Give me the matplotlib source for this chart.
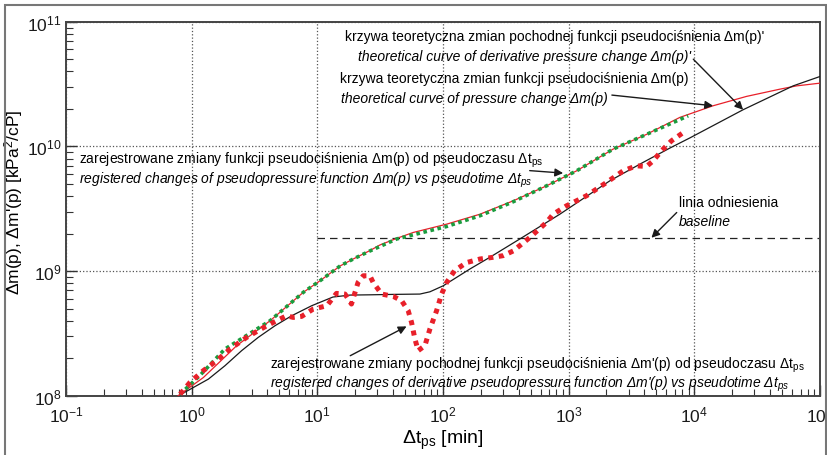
import numpy as np
import matplotlib
matplotlib.use("Agg")
import matplotlib.pyplot as plt
from matplotlib.ticker import LogLocator, NullFormatter
from matplotlib.patches import Rectangle

plt.rcParams['font.family'] = ['Liberation Sans', 'DejaVu Sans']
plt.rcParams['mathtext.fontset'] = 'custom'
plt.rcParams['mathtext.rm'] = 'Liberation Sans'
plt.rcParams['mathtext.it'] = 'Liberation Sans:italic'

# theoretical curve of pressure change dm(p)
t_theory = [0.78, 1.24, 2.28, 4.2, 7.73, 10.5, 15.2, 19.3, 26.2, 31.5, 42.8, 57.9, 107,
            197, 362, 667, 1156, 2259, 4167, 7670, 14110, 26020, 47900, 65000, 1e5]
m_theory = [1.0e8, 1.40e8, 2.52e8, 3.99e8, 6.75e8, 8.36e8, 1.10e9, 1.25e9, 1.46e9, 1.62e9,
            1.83e9, 2.04e9, 2.38e9, 2.86e9, 3.66e9, 4.83e9, 6.37e9, 9.52e9, 1.25e10,
            1.71e10, 2.12e10, 2.52e10, 2.88e10, 3.06e10, 3.22e10]

# theoretical derivative curve dm'(p)
t_deriv = [0.83, 1.36, 1.84, 2.50, 3.39, 4.60, 6.25, 9.01, 13.3, 18.2, 26.2, 40, 65.5,
           78.7, 100.4, 164, 236, 409, 851, 2128, 3915, 6385, 9210, 24450, 61100, 1e5]
md_theory = [1.03e8, 1.36e8, 1.74e8, 2.30e8, 2.94e8, 3.64e8, 4.38e8, 5.27e8, 6.19e8,
             6.42e8, 6.45e8, 6.5e8, 6.54e8, 6.82e8, 7.62e8, 1.04e9, 1.29e9, 1.81e9,
             2.86e9, 5.30e9, 7.45e9, 9.7e9, 1.17e10, 1.97e10, 3.06e10, 3.64e10]

# registered dm(p)
t_reg = [0.81, 1.16, 1.84, 4.2, 7.73, 10.5, 15.2, 19.3, 26.2, 42.8, 107, 197, 362, 667,
         1156, 2259, 4167, 8930]
m_reg = [1.03e8, 1.45e8, 2.37e8, 3.99e8, 6.75e8, 8.36e8, 1.10e9, 1.25e9, 1.45e9, 1.81e9,
         2.28e9, 2.78e9, 3.60e9, 4.83e9, 6.37e9, 9.52e9, 1.25e10, 1.76e10]

# registered derivative dm'(p)
t_regd = [0.81, 0.97, 1.24, 1.58, 2.02, 2.74, 3.95, 5.04, 5.7, 6.43, 7.5, 9.28, 11.9,
          14.2, 16.6, 18.7, 21.1, 23.2, 26.2, 27.8, 32.5, 40.2, 46.9, 52.9, 56.2, 59.8,
          63.5, 71.8, 78.7, 88.9, 97.5, 107, 124, 154, 197, 251, 301, 362, 491, 667,
          753, 962, 1387, 2002, 2714, 3467, 4167, 4700, 5483, 6585, 8147]
md_reg = [1.03e8, 1.28e8, 1.59e8, 1.91e8, 2.37e8, 2.94e8, 3.64e8, 4.12e8, 4.38e8, 4.25e8,
          4.33e8, 4.96e8, 5.27e8, 6.62e8, 6.54e8, 5.44e8, 8.12e8, 9.17e8, 9.17e8, 8.12e8,
          6.54e8, 6.27e8, 5.78e8, 4.80e8, 3.88e8, 2.85e8, 2.30e8, 2.52e8, 3.43e8, 4.80e8,
          6.54e8, 8.12e8, 1.01e9, 1.17e9, 1.25e9, 1.29e9, 1.33e9, 1.45e9, 1.86e9, 2.46e9,
          2.86e9, 3.34e9, 4.02e9, 5.14e9, 6.37e9, 6.99e9, 6.91e9, 7.66e9, 9.22e9, 1.11e10,
          1.29e10]

baseline_t = [10, 1e5]
baseline_m = [1.83e9, 1.83e9]

fig = plt.figure(figsize=(8.27, 4.56), dpi=100)
ax = fig.add_axes([0.0798, 0.130, 0.9117, 0.820])

ax.plot(t_theory, m_theory, color='#e8202a', lw=0.9, zorder=3)
ax.plot(t_deriv, md_theory, color='#1a1a1a', lw=0.9, zorder=3)
ax.plot(t_reg, m_reg, color='#1a9c3e', lw=2.6, linestyle=(0, (1, 1)), zorder=4)
ax.plot(t_regd, md_reg, color='#e8202a', lw=3.6, linestyle=(0, (1, 1.1)), zorder=4)
ax.plot(baseline_t, baseline_m, color='#222222', lw=0.9, linestyle=(0, (6, 4)), zorder=2)

ax.set_xscale('log')
ax.set_yscale('log')
ax.set_xlim(0.1, 1e5)
ax.set_ylim(1e8, 1e11)
ax.xaxis.set_major_locator(LogLocator(base=10, numticks=10))
ax.yaxis.set_major_locator(LogLocator(base=10, numticks=10))
ax.xaxis.set_minor_locator(LogLocator(base=10, subs=np.arange(2, 10), numticks=20))
ax.yaxis.set_minor_locator(LogLocator(base=10, subs=np.arange(2, 10), numticks=20))
ax.xaxis.set_minor_formatter(NullFormatter())
ax.yaxis.set_minor_formatter(NullFormatter())
ax.tick_params(which='both', direction='in', top=False, right=False, colors='#333333',
               labelcolor='#1a1a1a', labelsize=12.5)
ax.tick_params(which='major', length=8, width=1)
ax.tick_params(which='minor', length=5, width=0.8)
ax.tick_params(axis='x', pad=6)
ax.tick_params(axis='y', pad=3)
ax.grid(which='major', linestyle=':', color='#555555', lw=0.9)
for s in ax.spines.values():
    s.set_color('#444444')
    s.set_linewidth(1.4)

ax.set_xlabel(r"$\Delta$t$_\mathregular{ps}$ [min]", fontsize=14, labelpad=3)
ax.set_ylabel(r"$\Delta$m(p), $\Delta$m'(p) [kPa$^\mathregular{2}$/cP]", fontsize=12.5)
ax.yaxis.set_label_coords(-0.055, 0.52)

fs = 10
arrow = dict(arrowstyle='-|>', color='#1a1a1a', lw=1.0, mutation_scale=12,
             shrinkA=0, shrinkB=0)

ax.text(0.370, 0.962, "krzywa teoretyczna zmian pochodnej funkcji pseudociśnienia Δm(p)'",
        transform=ax.transAxes, fontsize=fs, va='center')
ax.text(0.387, 0.908, "theoretical curve of derivative pressure change Δm(p)'",
        transform=ax.transAxes, fontsize=fs, style='italic', va='center')
ax.annotate("", xy=(24450, 1.97e10), xytext=(0.832, 0.900), textcoords='axes fraction',
            arrowprops=arrow)

ax.text(0.363, 0.849, "krzywa teoretyczna zmian funkcji pseudociśnienia Δm(p)",
        transform=ax.transAxes, fontsize=fs, va='center')
ax.text(0.365, 0.796, "theoretical curve of pressure change Δm(p)",
        transform=ax.transAxes, fontsize=fs, style='italic', va='center')
ax.annotate("", xy=(14110, 2.12e10), xytext=(0.724, 0.804), textcoords='axes fraction',
            arrowprops=arrow)

ax.text(0.017, 0.633, r"zarejestrowane zmiany funkcji pseudociśnienia Δm(p) od pseudoczasu Δt$_\mathregular{ps}$",
        transform=ax.transAxes, fontsize=fs, va='center')
ax.text(0.017, 0.579, r"registered changes of pseudopressure function Δm(p) vs pseudotime Δt$_{ps}$",
        transform=ax.transAxes, fontsize=fs, style='italic', va='center')
ax.annotate("", xy=(904, 6.11e9), xytext=(0.615, 0.602), textcoords='axes fraction',
            arrowprops=arrow)

ax.text(0.813, 0.518, "linia odniesienia", transform=ax.transAxes, fontsize=fs, va='center')
ax.text(0.813, 0.467, "baseline", transform=ax.transAxes, fontsize=fs, style='italic',
        va='center')
ax.annotate("", xy=(4560, 1.85e9), xytext=(0.810, 0.490), textcoords='axes fraction',
            arrowprops=arrow)

ax.text(0.271, 0.085, r"zarejestrowane zmiany pochodnej funkcji pseudociśnienia Δm'(p) od pseudoczasu Δt$_\mathregular{ps}$",
        transform=ax.transAxes, fontsize=fs, va='center')
ax.text(0.271, 0.034, r"registered changes of derivative pseudopressure function Δm'(p) vs pseudotime Δt$_{ps}$",
        transform=ax.transAxes, fontsize=fs, style='italic', va='center')
ax.annotate("", xy=(51.3, 3.60e8), xytext=(0.377, 0.107), textcoords='axes fraction',
            arrowprops=arrow)

fig.patches.append(Rectangle((5 / 827, -0.02), 821 / 827, 1.02 - 6 / 456,
                             transform=fig.transFigure, fill=False, edgecolor='#777777',
                             lw=1.5, figure=fig))

fig.savefig("out.png", dpi=100)
